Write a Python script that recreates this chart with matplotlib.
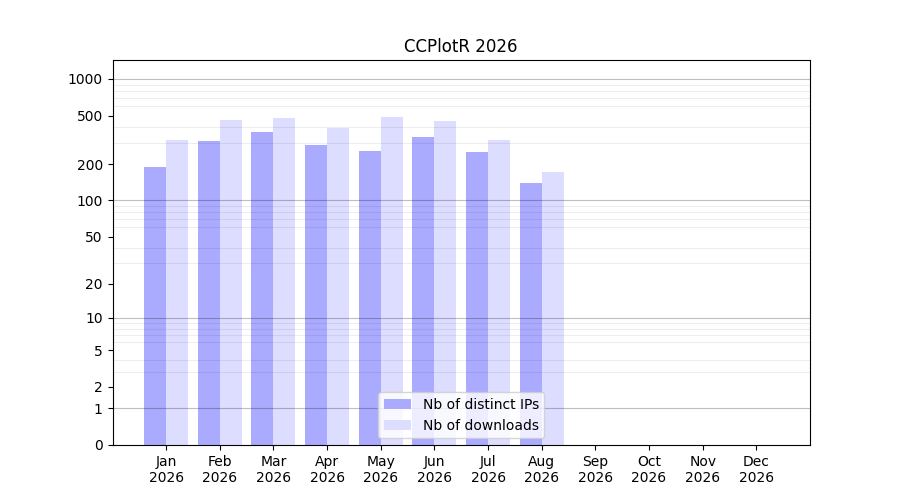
import numpy as np
from matplotlib import pyplot as plt
from matplotlib.ticker import FixedLocator, NullFormatter

TITLE = "CCPlotR 2026"
months = ['Jan', 'Feb', 'Mar', 'Apr', 'May', 'Jun',
          'Jul', 'Aug', 'Sep', 'Oct', 'Nov', 'Dec']
year = 2026

# Monthly statistics (no data after August)
distinct_ips = [190, 309, 369, 287, 256, 334, 251, 139]
downloads = [315, 460, 478, 396, 488, 452, 315, 172]

y_ticks = [0, 1, 2, 5, 10, 20, 50, 100, 200, 500, 1000]
decades = [1, 10, 100, 1000]


def forward(x):
    return np.log10(1 + np.clip(x, 0, None))


def inverse(y):
    return 10 ** y - 1


fig, ax = plt.subplots(figsize=(9, 5), dpi=100)

width = 0.41
x_ips = np.arange(len(distinct_ips))
x_dl = np.arange(len(downloads))
ax.bar(x_ips - width / 2, distinct_ips, width=width, color='#aaaaff',
       label='Nb of distinct IPs')
ax.bar(x_dl + width / 2, downloads, width=width, color='#ddddff',
       label='Nb of downloads')

ax.set_yscale('function', functions=(forward, inverse))
ax.set_ylim(0, 1430)
ax.set_xlim(-1, 12)

# Ticks and grid (semi transparent, drawn over the bars)
ax.yaxis.set_major_locator(FixedLocator(y_ticks))
ax.set_yticklabels([str(t) for t in y_ticks])
minor = [m * d for d in decades[:-1] for m in range(2, 10)]
ax.yaxis.set_minor_locator(FixedLocator(minor))
ax.yaxis.set_minor_formatter(NullFormatter())
ax.tick_params(axis='y', which='minor', length=0)
ax.yaxis.grid(True, which='minor', color='black', alpha=0.07, linewidth=0.8)
for d in decades:
    ax.axhline(d, color='black', alpha=0.25, linewidth=0.8, zorder=1.5)

ax.set_xticks(np.arange(len(months)))
ax.set_xticklabels([f"{m}\n{year}" for m in months])

ax.set_title(TITLE)
ax.legend(loc='lower center')

plt.savefig('out.png')
